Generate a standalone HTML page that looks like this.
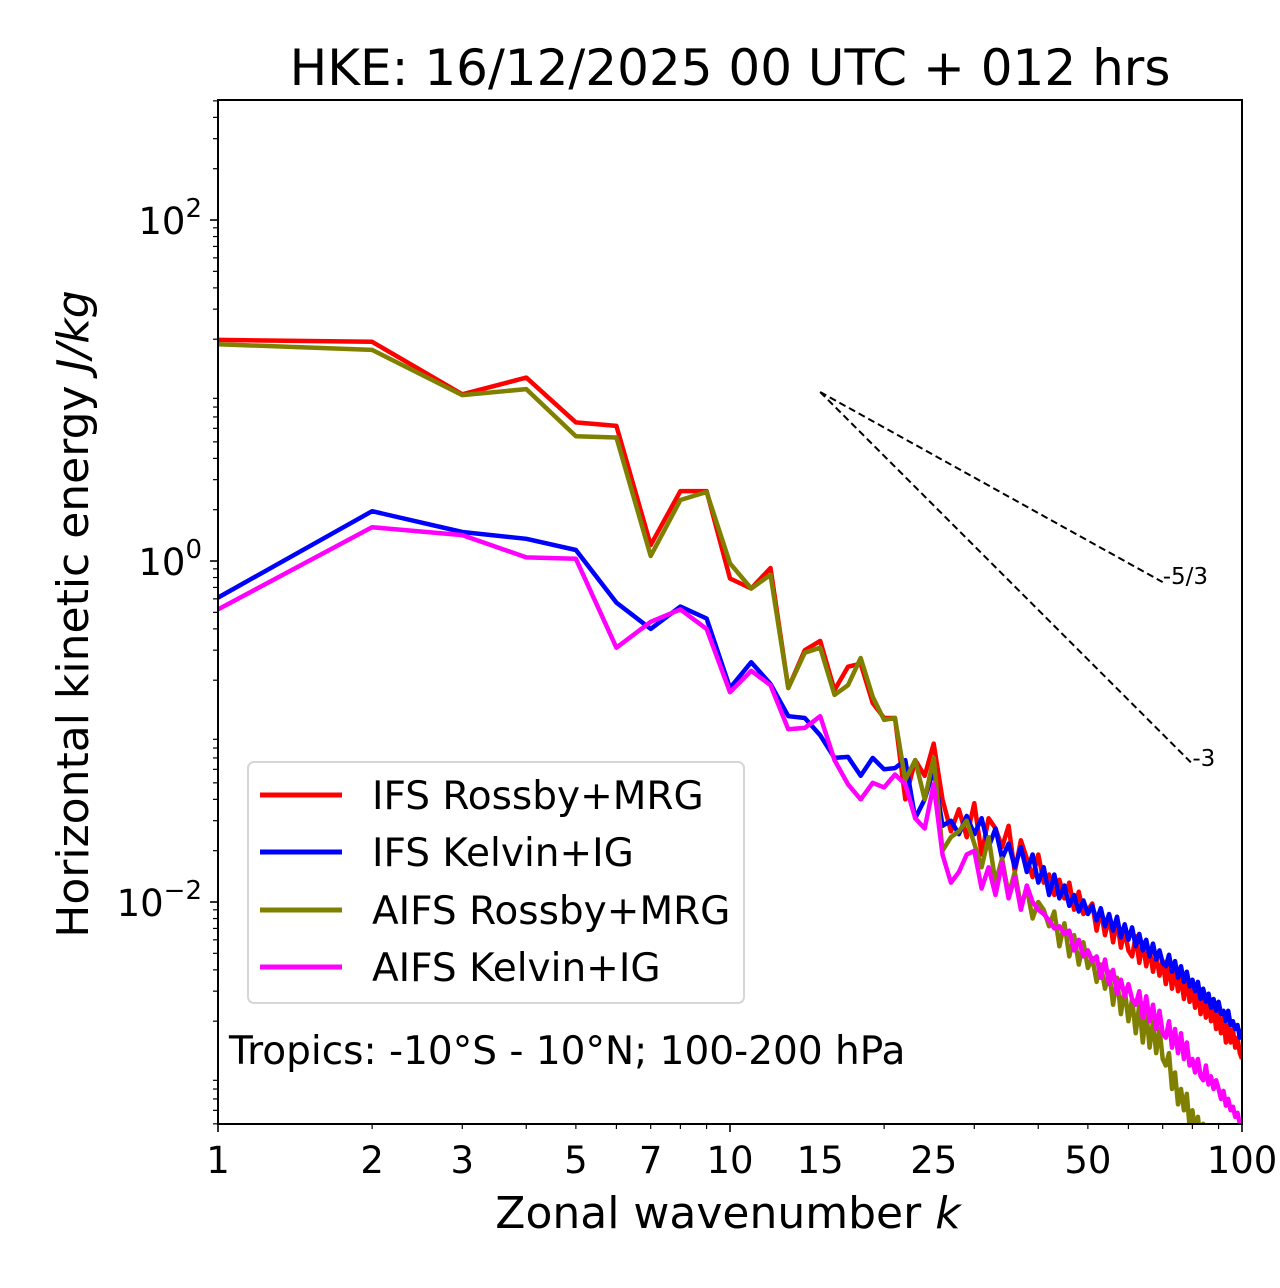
<!DOCTYPE html>
<html><head><meta charset="utf-8"><style>
html,body{margin:0;padding:0;background:#fff;}
svg{display:block;font-family:"DejaVu Sans","Liberation Sans",sans-serif;}
</style></head><body>
<svg id="chart" width="1280" height="1288" viewBox="0 0 1280 1288" xmlns="http://www.w3.org/2000/svg">
<text x="730" y="85" font-size="50" text-anchor="middle">HKE: 16/12/2025 00 UTC + 012 hrs</text>
<text x="728" y="1228" font-size="44" text-anchor="middle">Zonal wavenumber <tspan font-style="italic">k</tspan></text>
<text transform="translate(88,614) rotate(-90)" font-size="44" text-anchor="middle">Horizontal kinetic energy <tspan font-style="italic">J/kg</tspan></text>
<g id="ticks"></g>
<g id="plot"></g>
<rect x="218" y="100" width="1024" height="1024" fill="none" stroke="#000" stroke-width="2"/>
<g>
<rect x="248" y="762" width="496" height="241" rx="6" fill="#fff" fill-opacity="0.85" stroke="#d6d6d6" stroke-width="2"/>
<line x1="260" y1="795" x2="342" y2="795" stroke="#ff0000" stroke-width="5"/>
<text x="372" y="809" font-size="39">IFS Rossby+MRG</text>
<line x1="260" y1="852" x2="342" y2="852" stroke="#0000ff" stroke-width="5"/>
<text x="372" y="866" font-size="39">IFS Kelvin+IG</text>
<line x1="260" y1="910" x2="342" y2="910" stroke="#808000" stroke-width="5"/>
<text x="372" y="924" font-size="39">AIFS Rossby+MRG</text>
<line x1="260" y1="967" x2="342" y2="967" stroke="#ff00ff" stroke-width="5"/>
<text x="372" y="981" font-size="39">AIFS Kelvin+IG</text>
</g>
<text x="229" y="1064" font-size="39">Tropics: -10°S - 10°N; 100-200 hPa</text>
</svg>
<script>
const ifsRossby=[19.8,19.3,9.5,11.9,6.5,6.2,1.24,2.57,2.57,0.79,
0.69,0.91,0.18,0.30,0.34,0.175,0.24,0.25,0.147,0.12,
0.12,0.04,0.068,0.055,0.085,0.04,0.026,0.035,0.024,0.038,
0.019,0.031,0.027,0.021,0.028,0.015,0.023,0.018,0.014,0.019,
0.013,0.0145,0.011,0.0135,0.0105,0.013,0.009,0.0115,0.0085,0.009,
0.0098,0.0068,0.009,0.0064,0.0082,0.0058,0.0078,0.0054,0.0068,0.0052,
0.0048,0.0063,0.0044,0.0058,0.0042,0.0053,0.0039,0.0049,0.0037,0.0045,
0.0033,0.0043,0.0031,0.004,0.003,0.0037,0.0027,0.0036,0.0026,0.0032,
0.0024,0.0031,0.0022,0.0028,0.0021,0.0027,0.002,0.0024,0.0018,0.0022,
0.0017,0.0021,0.0015,0.0019,0.0015,0.0018,0.0014,0.0016,0.0013,0.0012];
const ifsKelvin=[0.61,1.96,1.48,1.35,1.16,0.57,0.40,0.54,0.46,0.18,
0.255,0.19,0.123,0.12,0.095,0.07,0.071,0.055,0.07,0.06,
0.061,0.068,0.031,0.04,0.06,0.028,0.03,0.025,0.032,0.025,
0.031,0.021,0.027,0.018,0.022,0.016,0.021,0.015,0.019,0.013,
0.016,0.011,0.0145,0.0105,0.0125,0.0095,0.011,0.0088,0.0102,0.0085,
0.0095,0.0078,0.0092,0.0072,0.0085,0.0068,0.0082,0.0062,0.0074,0.006,
0.0071,0.0055,0.0065,0.0052,0.006,0.0048,0.0057,0.0046,0.0052,0.0044,
0.0042,0.0049,0.0039,0.0045,0.0036,0.0042,0.0034,0.0039,0.0032,0.0035,
0.003,0.0034,0.0027,0.0031,0.0026,0.0029,0.0024,0.0027,0.0023,0.0026,
0.0022,0.0023,0.002,0.0023,0.0019,0.002,0.0018,0.0019,0.0016,0.0018];
const aifsRossby=[18.7,17.3,9.4,10.2,5.4,5.3,1.07,2.28,2.54,0.97,
0.69,0.83,0.18,0.29,0.31,0.164,0.187,0.27,0.16,0.117,
0.12,0.052,0.068,0.04,0.07,0.02,0.024,0.026,0.03,0.022,
0.016,0.024,0.013,0.018,0.011,0.015,0.0095,0.012,0.008,0.01,
0.009,0.0072,0.0088,0.0055,0.0075,0.0048,0.0064,0.0043,0.0058,0.0041,
0.0047,0.0034,0.0043,0.0031,0.0039,0.0025,0.0036,0.0022,0.0031,0.002,
0.0027,0.0017,0.0025,0.0015,0.0023,0.0014,0.002,0.0013,0.0018,0.0012,
0.0011,0.0013,0.0008,0.001,0.00065,0.0008,0.0006,0.00075,0.00048,0.0006,
0.00045,0.00055,0.0004,0.0005,0.00042,0.00048,0.0004,0.00045,0.00038,0.0004,
0.00036,0.0004,0.00034,0.00038,0.00032,0.00035,0.0003,0.00033,0.00029,0.0003];
const aifsKelvin=[0.52,1.58,1.42,1.05,1.03,0.31,0.44,0.52,0.40,0.17,
0.227,0.187,0.103,0.105,0.123,0.068,0.049,0.04,0.05,0.047,
0.056,0.049,0.031,0.027,0.049,0.019,0.013,0.015,0.019,0.02,
0.012,0.016,0.011,0.017,0.0105,0.014,0.009,0.0125,0.01,0.009,
0.0085,0.0078,0.007,0.0072,0.0065,0.0068,0.0052,0.006,0.0048,0.0052,
0.0045,0.0048,0.0036,0.0046,0.0033,0.004,0.0029,0.0035,0.0028,0.0033,
0.0027,0.0025,0.003,0.0021,0.0028,0.002,0.0025,0.0018,0.0023,0.0017,
0.0016,0.002,0.0014,0.0018,0.0013,0.0017,0.0012,0.0015,0.0011,0.0012,
0.001,0.0012,0.00095,0.0009,0.0011,0.00085,0.00095,0.0008,0.0009,0.0008,
0.0007,0.00078,0.00064,0.0007,0.0006,0.00063,0.00055,0.00058,0.0005,0.00048];
const xTickLabels=[1,2,3,5,7,10,15,25,50,100];
const yMajorExps=[-2,0,2];
const refStartK=15, refStartE=9.8, refEndK53=70, refEndK3=80;

const NS="http://www.w3.org/2000/svg";
const X0=218,X1=1242,Y0=100,Y1=1124;
const xMin=0,xMax=2,yTop=2.704,yBot=-3.302;
function xs(k){return X0+(Math.log10(k)-xMin)/(xMax-xMin)*(X1-X0);}
function ys(v){return Y0+(yTop-Math.log10(v))/(yTop-yBot)*(Y1-Y0);}
function mk(tag,attrs,parent){const e=document.createElementNS(NS,tag);for(const a in attrs)e.setAttribute(a,attrs[a]);parent.appendChild(e);return e;}
const svg=document.getElementById('chart');
const plot=document.getElementById('plot');
const ticks=document.getElementById('ticks');
const defs=mk('defs',{},svg);
const cp=mk('clipPath',{id:'clip'},defs);
mk('rect',{x:X0,y:Y0,width:X1-X0,height:Y1-Y0},cp);
plot.setAttribute('clip-path','url(#clip)');

for(let d=0;d<2;d++){for(let m=1;m<10;m++){const k=m*Math.pow(10,d);const x=xs(k);
 const t=mk('line',{x1:x,y1:Y1,x2:x,y2:Y1+(m===1?8:5),stroke:'#000','stroke-width':m===1?1.6:1.2},ticks);
 
 }}
mk('line',{x1:X1,y1:Y1,x2:X1,y2:Y1+8,stroke:'#000','stroke-width':1.6},ticks);
xTickLabels.forEach(k=>{const t=mk('text',{x:xs(k),y:Y1+49,'font-size':37,'text-anchor':'middle'},ticks);t.textContent=String(k);
 
 });
for(let e=-4;e<=2;e++){for(let m=1;m<10;m++){const v=m*Math.pow(10,e);const lv=Math.log10(v);if(lv>yTop||lv<yBot)continue;
 const major=(m===1&&e%2===0);if(m===1&&!major)continue;const y=ys(v);
 const t=mk('line',{x1:X0,y1:y,x2:X0-(major?8:5),y2:y,stroke:'#000','stroke-width':major?1.6:1.2},ticks);
 
 }}
yMajorExps.forEach(e=>{const y=ys(Math.pow(10,e));const t=mk('text',{x:X0-16,y:y+14,'font-size':37,'text-anchor':'end'},ticks);
 t.textContent='10';const s=mk('tspan',{dy:-17,'font-size':26},t);s.textContent=(e<0?'\u2212':'')+Math.abs(e);
 
 });

function series(arr,color,name){let d='';arr.forEach((v,i)=>{d+=(i?'L':'M')+xs(i+1).toFixed(1)+','+ys(v).toFixed(1);});
 const p=mk('path',{d:d,fill:'none',stroke:color,'stroke-width':4.5,'stroke-linejoin':'round'},plot);
 
 }
series(ifsRossby,'#ff0000','ifs-rossby-line');
series(ifsKelvin,'#0000ff','ifs-kelvin-line');
series(aifsRossby,'#808000','aifs-rossby-line');
series(aifsKelvin,'#ff00ff','aifs-kelvin-line');

function ref(slope,endK,name,label){const x1=xs(refStartK),y1=ys(refStartE);const e2=refStartE*Math.pow(endK/refStartK,slope);
 const l=mk('line',{x1:x1,y1:y1,x2:xs(endK),y2:ys(e2),stroke:'#000','stroke-width':2,'stroke-dasharray':'7,4'},svg);
 
 
 const t=mk('text',{x:xs(endK),y:ys(e2)+2,'font-size':23},svg);t.textContent=label;
 
 }
ref(-5/3,refEndK53,'slope-5-3-line','-5/3');
ref(-3,refEndK3,'slope-3-line','-3');
</script>
</body></html>
